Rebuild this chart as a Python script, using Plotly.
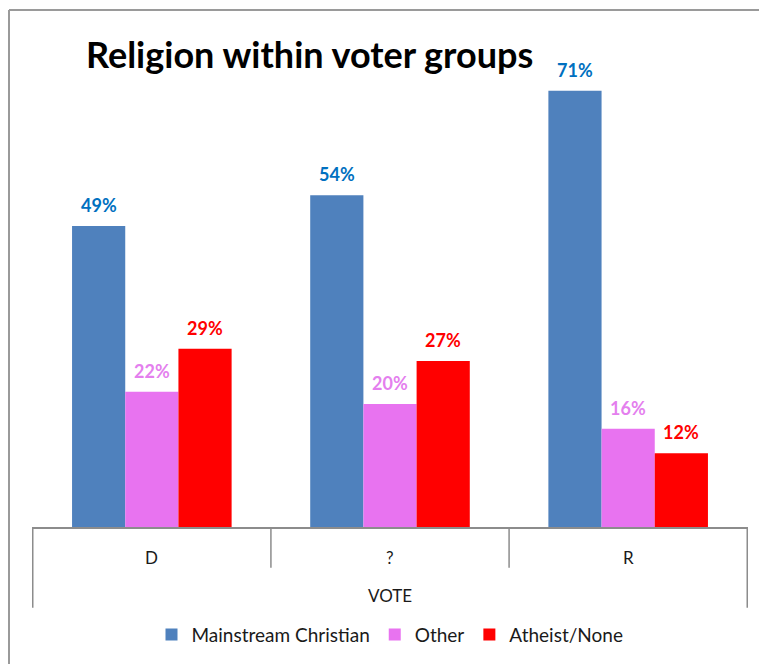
import plotly.graph_objects as go

axis_title = "VOTE"
groups = ["D", "?", "R"]
series_names = ["Mainstream Christian", "Other", "Atheist/None"]
christian = [49, 54, 71]
other = [22, 20, 16]
atheist = [29, 27, 12]

bar_colors = ["#4F81BD", "#E873F0", "#FF0000"]
label_colors = ["#0070C0", "#E47FEE", "#FF0000"]

W, H = 759, 664
L, R, T, B = 32, 11, 33, 135
PH = H - T - B
PW = W - L - R
FONT = "Lato"
GRAY = "#8C8C8C"
BARGAP = 0.33

series = [christian, other, atheist]
fig = go.Figure()
for name, vals, bc in zip(series_names, series, bar_colors):
    fig.add_trace(go.Bar(
        name=name, x=groups, y=vals,
        marker=dict(color=bc, line=dict(width=0)),
    ))

annotations = []
n = len(series)
w = (1 - BARGAP) / n
for k, (vals, lc) in enumerate(zip(series, label_colors)):
    for i, v in enumerate(vals):
        annotations.append(dict(
            x=i + (k - (n - 1) / 2) * w, y=v, xref="x", yref="y",
            text=f"<b>{v}%</b>", showarrow=False, yshift=21,
            yanchor="middle", xanchor="center",
            font=dict(family=FONT, size=18, color=lc),
        ))
for i, g in enumerate(groups):
    annotations.append(dict(
        x=i, y=-(560 - (H - B)) / PH, xref="x", yref="paper",
        text=g, showarrow=False, yanchor="middle",
        font=dict(family=FONT, size=17, color="#1a1a1a"),
    ))
annotations.append(dict(
    x=0.5, y=-(598 - (H - B)) / PH, xref="paper", yref="paper",
    text=axis_title, showarrow=False, yanchor="middle",
    font=dict(family=FONT, size=17, color="#1a1a1a"),
))

shapes = []
for b in range(len(groups) + 1):
    edge = b in (0, len(groups))
    shapes.append(dict(
        type="line", xref="x", yref="paper",
        x0=b - 0.5, x1=b - 0.5, y0=0,
        y1=-((610 if edge else 570) - (H - B)) / PH,
        line=dict(color=GRAY, width=1.5),
    ))
# outer chart-area frame (top and left edges visible)
top_y = 1 + (T - 10) / PH
left_x = (9 - L) / PW
shapes.append(dict(
    type="line", xref="paper", yref="paper",
    x0=left_x, x1=(W + 40 - L) / PW, y0=top_y, y1=top_y,
    line=dict(color="#9A9A9A", width=2), layer="below",
))
shapes.append(dict(
    type="line", xref="paper", yref="paper",
    x0=left_x, x1=left_x, y0=top_y, y1=-(H + 40 - (H - B)) / PH,
    line=dict(color="#9A9A9A", width=2), layer="below",
))

fig.update_layout(
    width=W, height=H,
    margin=dict(l=L, r=R, t=T, b=B, pad=0),
    paper_bgcolor="white",
    plot_bgcolor="white",
    barmode="group",
    bargap=BARGAP,
    bargroupgap=0,
    font=dict(family=FONT, size=16, color="#1a1a1a"),
    title=dict(
        text="<b>Religion within voter groups</b>",
        x=86 / W, xanchor="left", xref="container",
        y=1 - 55 / H, yanchor="middle", yref="container",
        font=dict(family=FONT, size=36, color="black"),
    ),
    xaxis=dict(
        type="category",
        showline=True, linecolor=GRAY, linewidth=2,
        ticks="", showticklabels=False,
        showgrid=False, zeroline=False,
    ),
    yaxis=dict(range=[0, 80.4], visible=False, showgrid=False, zeroline=False),
    showlegend=True,
    legend=dict(
        orientation="h", x=0.5, xanchor="center",
        y=-(637 - (H - B)) / PH, yanchor="middle",
        font=dict(family=FONT, size=19, color="#1a1a1a"),
        itemwidth=30, tracegroupgap=0,
    ),
    annotations=annotations,
    shapes=shapes,
)

fig.write_html("out.html")
